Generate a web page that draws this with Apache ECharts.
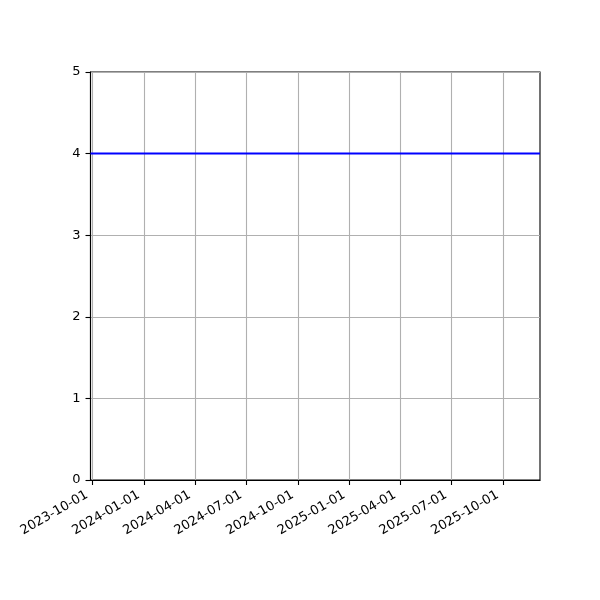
<!DOCTYPE html>
<html>
<head>
<meta charset="utf-8">
<script src="https://cdn.jsdelivr.net/npm/echarts@6/dist/echarts.min.js"></script>
<style>
  html, body { margin: 0; padding: 0; background: #fff; }
  #chart { width: 600px; height: 600px; }
</style>
</head>
<body>
<div id="chart"></div>
<script>
const dates = ['2023-09-28', '2025-12-06']
const values = [4, 4]
const tickDates = ['2023-10-01', '2024-01-01', '2024-04-01', '2024-07-01', '2024-10-01',
  '2025-01-01', '2025-04-01', '2025-07-01', '2025-10-01']
const yTicks = [0, 1, 2, 3, 4, 5]

const toTime = s => Date.UTC(+s.slice(0, 4), +s.slice(5, 7) - 1, +s.slice(8, 10))
const fmt = v => new Date(v).toISOString().slice(0, 10)
const tickTimes = tickDates.map(toTime)
const font = 'DejaVu Sans'

const myChart = echarts.init(document.querySelector('#chart'))

myChart.setOption({
  animation: false,
  grid: {
    left: 90.5, right: 60, top: 72, bottom: 120,
    show: true, borderColor: '#000', borderWidth: 1.1, containLabel: false
  },
  xAxis: {
    type: 'value',
    scale: true,
    min: toTime(dates[0]),
    max: toTime(dates[dates.length - 1]),
    axisLine: { show: true, onZero: false, lineStyle: { color: '#000', width: 1.1 } },
    axisTick: { show: true, length: 5, customValues: tickTimes, lineStyle: { color: '#000', width: 1.1 } },
    splitLine: { show: true, lineStyle: { color: '#b0b0b0', width: 1.1 } },
    axisLabel: {
      customValues: tickTimes,
      rotate: 30,
      margin: 11,
      padding: [0, 6, 0, 0],
      color: '#000',
      fontFamily: font,
      fontSize: 13,
      hideOverlap: false,
      formatter: v => fmt(v)
    }
  },
  yAxis: {
    type: 'value',
    min: yTicks[0],
    max: yTicks[yTicks.length - 1],
    interval: 1,
    axisLine: { show: true, lineStyle: { color: '#000', width: 1.1 } },
    axisTick: { show: true, length: 5, lineStyle: { color: '#000', width: 1.1 } },
    splitLine: { show: true, lineStyle: { color: '#b0b0b0', width: 1.1 } },
    axisLabel: { color: '#000', fontFamily: font, fontSize: 13, margin: 10 }
  },
  series: [
    {
      type: 'line',
      data: dates.map((d, i) => [toTime(d), values[i]]),
      showSymbol: false,
      lineStyle: { color: '#0000ff', width: 2 },
      z: 5
    }
  ]
})
</script>
</body>
</html>
